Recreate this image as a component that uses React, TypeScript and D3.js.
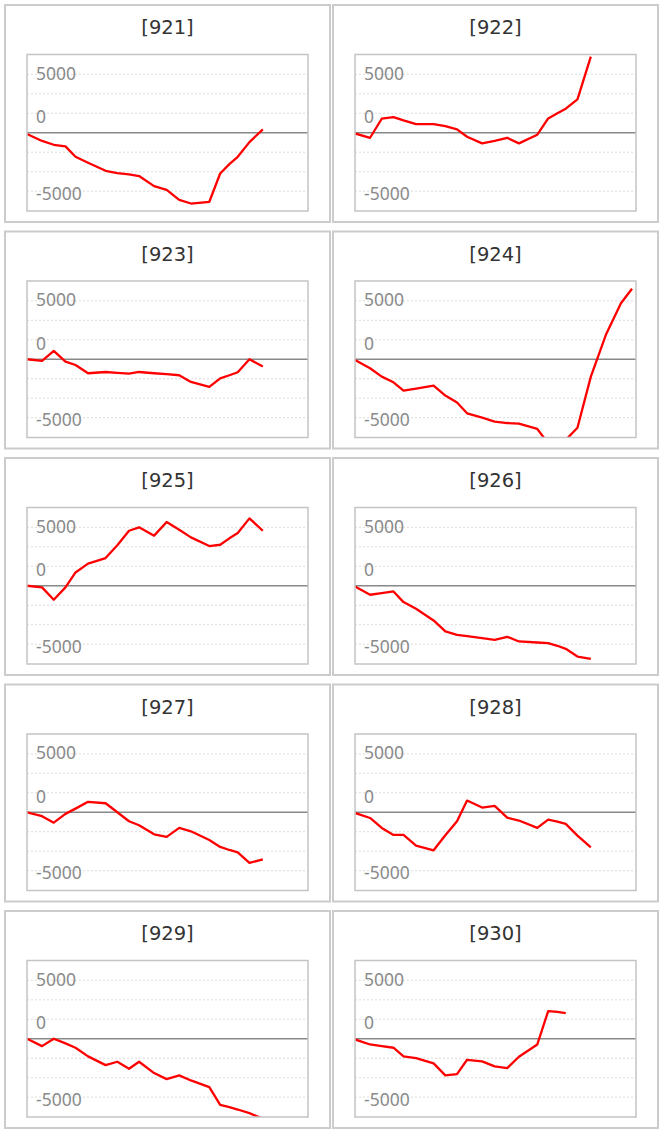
import { useEffect, useRef } from 'react';
import * as d3 from 'd3';

// panel titles, in reading order (two per row)
const CODES = ['[921]', '[922]', '[923]', '[924]', '[925]', '[926]', '[927]', '[928]', '[929]', '[930]'];

// shared x positions (days from the first sample)
const X_DAYS = [0, 9, 16, 23, 29, 36.5, 47, 54, 61, 67, 76, 83.5, 91, 98, 109, 115.5, 121, 126, 133, 141, 150, 159, 165.6];

const S921 = [-100, -700, -1030, -1170, -2060, -2570, -3260, -3460, -3560, -3710, -4570, -4890, -5740, -6060, -5910, -3490, -2690, -2060, -800, 290];
const S922 = [-60, -430, 1200, 1340, 1060, 740, 740, 570, 290, -340, -910, -690, -430, -910, -170, 1230, 1660, 2060, 2860, 6510];
const S923 = [0, -140, 710, -200, -490, -1200, -1090, -1160, -1230, -1090, -1200, -1270, -1370, -1940, -2370, -1630, -1370, -1110, 0, -630];
const S924 = [-60, -770, -1490, -1970, -2690, -2510, -2260, -3110, -3710, -4630, -5000, -5340, -5460, -5510, -5970, -7200, -7300, -6900, -5860, -1490, 2090, 4800, 6030];
const S925 = [0, -140, -1200, -140, 1140, 1890, 2370, 3460, 4710, 5000, 4290, 5460, 4800, 4140, 3400, 3510, 4060, 4510, 5770, 4710];
const S926 = [-60, -770, -630, -490, -1400, -1970, -2970, -3910, -4200, -4310, -4490, -4630, -4370, -4770, -4860, -4910, -5140, -5400, -6060, -6260];
const S927 = [0, -340, -890, -140, 310, 890, 770, 0, -770, -1110, -1890, -2110, -1340, -1630, -2370, -2970, -3230, -3430, -4340, -4030];
const S928 = [-60, -490, -1340, -1940, -1940, -2860, -3260, -1970, -770, 1000, 400, 540, -460, -710, -1340, -630, -800, -1000, -2000, -3000];
const S929 = [0, -630, 0, -400, -770, -1510, -2260, -1970, -2570, -1970, -2940, -3460, -3140, -3570, -4140, -5660, -5860, -6060, -6370, -6850];
const S930 = [-60, -490, -630, -770, -1510, -1660, -2110, -3140, -3030, -1800, -1940, -2370, -2510, -1540, -490, 2370, 2300, 2200];

const SERIES = [S921, S922, S923, S924, S925, S926, S927, S928, S929, S930];

// grid every 1/3 of 5000, labels drawn where the original put them
const GRID_VALUES = [-5000, -3333, -1667, 1667, 3333, 5000];
const TICK_LABELS = ['5000', '0', '-5000'];
const TICK_AT = [5130, 1420, -5150];

const W = 664;
const H = 1132;

export default function App() {
  const svgRef = useRef<SVGSVGElement>(null);

  useEffect(() => {
    if (!svgRef.current) return;
    const svg = d3.select(svgRef.current);
    svg.selectAll('*').remove();

    const colX = [5, 333];
    const rowPitch = 226.5;
    const panelW = 325;
    const panelH = 217;
    const plot = { left: 22, right: 22, top: 49.5, bottom: 206 };
    const pw = panelW - plot.left - plot.right;

    const x = d3.scaleLinear().domain([0, 168]).range([0, pw]);
    const y = d3.scaleLinear().domain([-6700, 6700]).range([plot.bottom - plot.top, 0]);

    const line = d3.line<number>()
      .x((_, i) => x(X_DAYS[i]))
      .y(d => y(d));

    SERIES.forEach((values, k) => {
      const px = colX[k % 2];
      const py = 5 + Math.floor(k / 2) * rowPitch;
      const g = svg.append('g').attr('transform', `translate(${px},${py})`);

      g.append('rect')
        .attr('width', panelW)
        .attr('height', panelH)
        .attr('fill', '#fff')
        .attr('stroke', '#cccccc')
        .attr('stroke-width', 2);

      g.append('text')
        .attr('x', panelW / 2)
        .attr('y', 29)
        .attr('text-anchor', 'middle')
        .attr('font-family', '"DejaVu Sans", Verdana, sans-serif')
        .attr('font-size', '19.5px')
        .attr('fill', '#333')
        .text(CODES[k]);

      const p = g.append('g').attr('transform', `translate(${plot.left},${plot.top})`);
      const ph = plot.bottom - plot.top;

      // dotted gridlines
      p.append('g')
        .selectAll('line')
        .data(GRID_VALUES)
        .enter()
        .append('line')
        .attr('x1', 0)
        .attr('x2', pw)
        .attr('y1', d => y(d))
        .attr('y2', d => y(d))
        .attr('stroke', '#dcdcdc')
        .attr('stroke-width', 1)
        .attr('stroke-dasharray', '2,2');

      // zero line
      p.append('line')
        .attr('x1', 0)
        .attr('x2', pw)
        .attr('y1', y(0))
        .attr('y2', y(0))
        .attr('stroke', '#888')
        .attr('stroke-width', 1.5);

      p.append('g')
        .selectAll('text')
        .data(TICK_LABELS)
        .enter()
        .append('text')
        .attr('x', 9)
        .attr('y', (_, i) => y(TICK_AT[i]))
        .attr('dominant-baseline', 'central')
        .attr('font-family', '"Noto Sans", sans-serif')
        .attr('font-size', '17.5px')
        .attr('fill', '#8a8a8a')
        .text(d => d);

      const clipId = `clip-${k}`;
      p.append('clipPath')
        .attr('id', clipId)
        .append('rect')
        .attr('width', pw)
        .attr('height', ph);

      p.append('path')
        .datum(values)
        .attr('clip-path', `url(#${clipId})`)
        .attr('fill', 'none')
        .attr('stroke', '#ff0000')
        .attr('stroke-width', 2.3)
        .attr('stroke-linejoin', 'round')
        .attr('d', line);

      // plot frame
      p.append('rect')
        .attr('width', pw)
        .attr('height', ph)
        .attr('fill', 'none')
        .attr('stroke', '#c4c4c4')
        .attr('stroke-width', 1.5);
    });
  }, []);

  return (
    <svg
      ref={svgRef}
      width={W}
      height={H}
      viewBox={`0 0 ${W} ${H}`}
      style={{ position: 'absolute', left: 0, top: 0, background: '#fff' }}
    />
  );
}
